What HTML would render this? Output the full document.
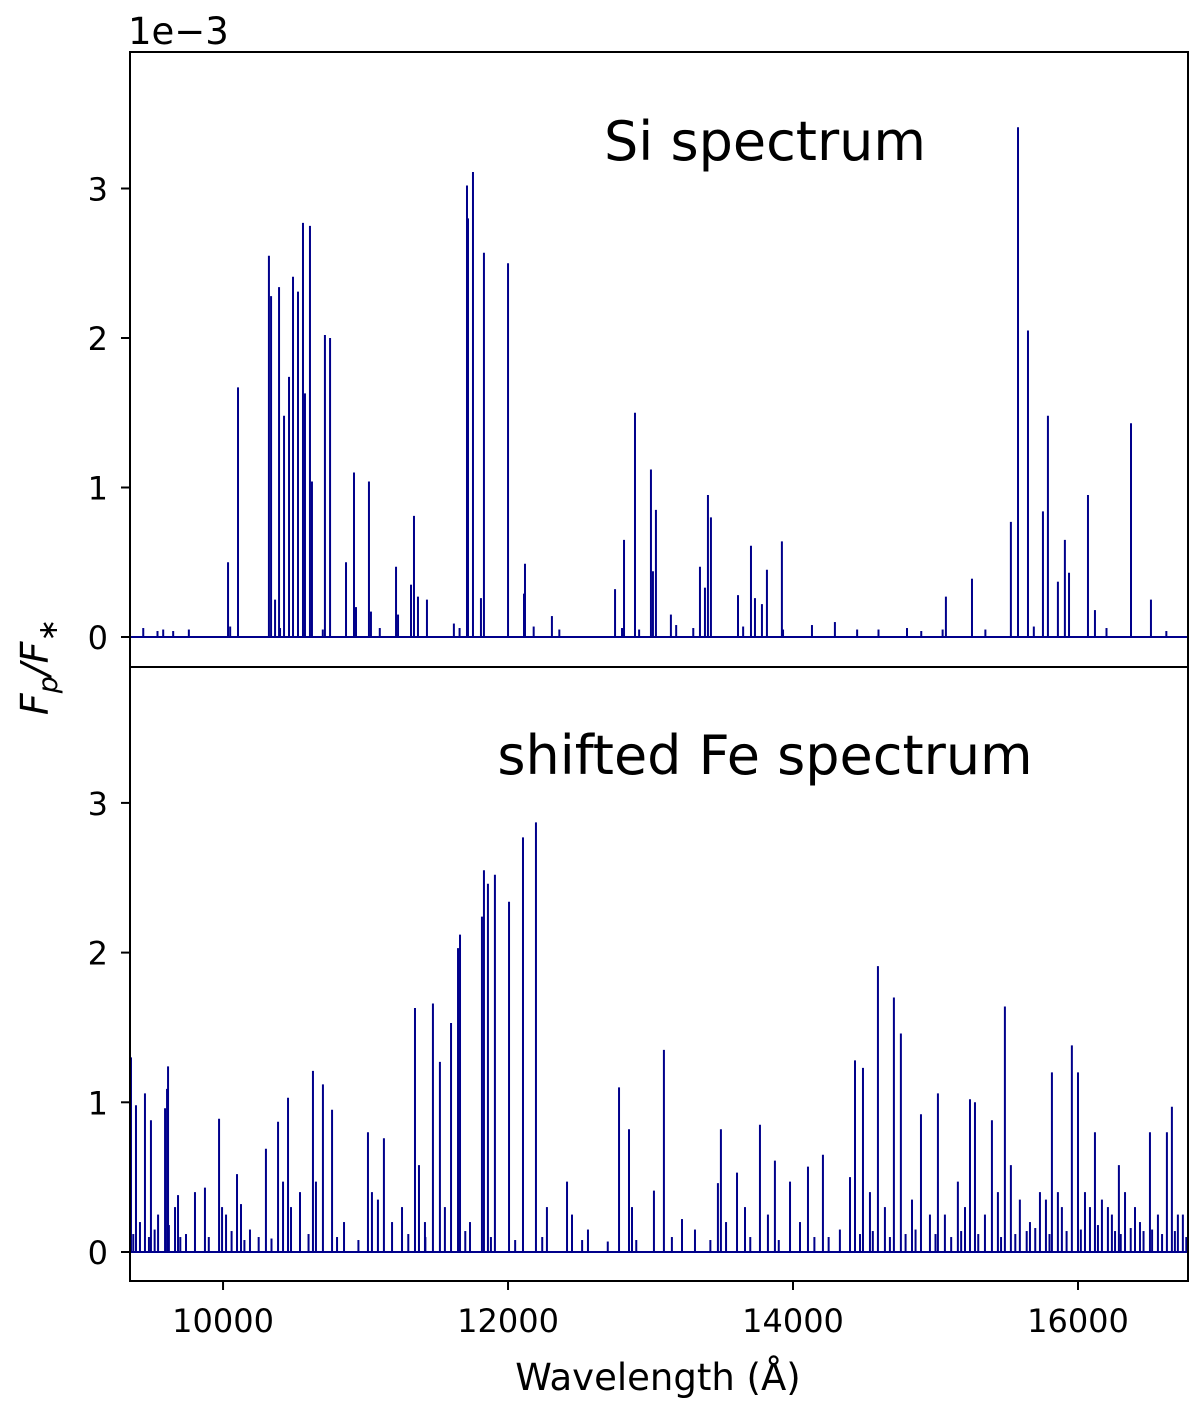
<!DOCTYPE html>
<html><head><meta charset="utf-8"><style>
html,body{margin:0;padding:0;background:#fff;}
svg text{font-family:"DejaVu Sans","Liberation Sans",sans-serif;fill:#000;}
</style></head><body>
<svg id="chart" width="1200" height="1405" viewBox="0 0 1200 1405" xmlns="http://www.w3.org/2000/svg">
<g id="top-marks"></g>
<g id="bot-marks"></g>
<g id="axes"></g>
<text x="128" y="44" font-size="37">1e−3</text>
<text x="765" y="160" font-size="54" text-anchor="middle">Si spectrum</text>
<text x="765" y="774" font-size="54" text-anchor="middle">shifted Fe spectrum</text>
<text x="658" y="1390" font-size="37" text-anchor="middle">Wavelength (Å)</text>
<text transform="translate(48,667) rotate(-90)" font-size="38" text-anchor="middle" font-style="italic">F<tspan font-size="27" dy="9">p</tspan><tspan dy="-9">/F</tspan><tspan font-size="27" dy="9">∗</tspan></text>
</svg>
<script>
const xTicks=[10000,12000,14000,16000];
const yTicks=[0,1,2,3];
const siWave=[10035,10105,10322,10337,10365,10393,10428,10463,10491,10526,10561,10575,10610,10624,10715,10751,10863,10919,10933,11024,11038,11214,11228,11319,11340,11368,11431,11712,11719,11754,11810,11831,12000,12112,12119,12308,12751,12814,12891,13003,13017,13038,13143,13347,13382,13403,13424,13614,13705,13733,13782,13817,13922,14133,14294,15073,15256,15529,15579,15649,15754,15789,15859,15908,15937,16070,16119,16372,16512,9440,9540,9580,9650,9760,10050,10400,10700,11100,11620,11660,12180,12360,12800,12920,13180,13300,13650,13930,14450,14600,14800,14900,15050,15350,15690,16200,16620];
const siFlux=[0.5,1.67,2.55,2.28,0.25,2.34,1.48,1.74,2.41,2.31,2.77,1.63,2.75,1.04,2.02,2.0,0.5,1.1,0.2,1.04,0.17,0.47,0.15,0.35,0.81,0.27,0.25,3.02,2.8,3.11,0.26,2.57,2.5,0.29,0.49,0.14,0.32,0.65,1.5,1.12,0.44,0.85,0.15,0.47,0.33,0.95,0.8,0.28,0.61,0.26,0.22,0.45,0.64,0.08,0.1,0.27,0.39,0.77,3.41,2.05,0.84,1.48,0.37,0.65,0.43,0.95,0.18,1.43,0.25,0.06,0.04,0.05,0.04,0.05,0.07,0.06,0.05,0.06,0.09,0.06,0.07,0.05,0.06,0.05,0.08,0.06,0.07,0.05,0.05,0.05,0.06,0.04,0.05,0.05,0.07,0.06,0.04];
const feWave=[9354,9389,9452,9494,9593,9607,9614,9972,10098,10301,10386,10456,10631,10701,10765,11017,11129,11347,11375,11473,11522,11600,11649,11663,11817,11831,11859,11908,12007,12105,12196,12414,12779,12849,13024,13094,13473,13494,13607,13768,13873,13979,14105,14210,14435,14491,14596,14708,14757,14898,15017,15157,15242,15277,15396,15487,15529,15817,15957,16000,16119,16287,16505,16624,16659,
9417,9544,9663,9684,9803,9873,9993,10021,10126,10189,10421,10477,10540,10652,10849,11045,11087,11186,11256,11417,11557,11733,12273,12449,12561,12870,13221,13312,13530,13663,13824,14049,14329,14400,14540,14645,14835,14961,15066,15207,15347,15438,15592,15663,15733,15775,15859,15887,16049,16084,16168,16210,16238,16330,16400,16435,16561,16701,16736,
9370,9480,9520,9620,9700,9740,9900,10060,10150,10250,10340,10600,10800,10950,11300,11420,11700,11880,12050,12240,12520,12700,12900,13150,13420,13700,13900,14150,14250,14470,14560,14680,14790,14860,15000,15110,15180,15300,15460,15560,15640,15700,15800,15920,16020,16140,16260,16300,16370,16460,16520,16590,16680,16760];
const feFlux=[1.3,0.98,1.06,0.88,0.96,1.09,1.24,0.89,0.52,0.69,0.87,1.03,1.21,1.12,0.95,0.8,0.76,1.63,0.58,1.66,1.27,1.53,2.03,2.12,2.24,2.55,2.46,2.52,2.34,2.77,2.87,0.47,1.1,0.82,0.41,1.35,0.46,0.82,0.53,0.85,0.61,0.47,0.57,0.65,1.28,1.23,1.91,1.7,1.46,0.92,1.06,0.47,1.02,1.0,0.88,1.64,0.58,1.2,1.38,1.2,0.8,0.58,0.8,0.8,0.97,
0.2,0.25,0.3,0.38,0.4,0.43,0.3,0.25,0.32,0.15,0.47,0.3,0.4,0.47,0.2,0.4,0.35,0.2,0.3,0.2,0.3,0.2,0.3,0.25,0.15,0.3,0.22,0.15,0.2,0.3,0.25,0.2,0.15,0.5,0.4,0.3,0.35,0.25,0.25,0.3,0.25,0.4,0.35,0.2,0.4,0.35,0.4,0.3,0.4,0.3,0.35,0.3,0.25,0.4,0.3,0.2,0.25,0.25,0.25,
0.12,0.1,0.15,0.18,0.1,0.12,0.1,0.14,0.08,0.1,0.09,0.12,0.1,0.08,0.12,0.1,0.14,0.1,0.08,0.1,0.08,0.07,0.08,0.1,0.08,0.1,0.08,0.1,0.1,0.12,0.14,0.1,0.12,0.15,0.12,0.1,0.14,0.12,0.1,0.12,0.14,0.16,0.12,0.14,0.15,0.18,0.14,0.12,0.16,0.14,0.15,0.12,0.14,0.1];
const NS='http://www.w3.org/2000/svg';
const X0=130,X1=1188,WMIN=9347,WMAX=16772;
function xs(w){return X0+(w-WMIN)/(WMAX-WMIN)*(X1-X0);}
function ysTop(v){return 637-v*149.5;}
function ysBot(v){return 1252-v*149.7;}
function mk(tag,attrs,parent){const e=document.createElementNS(NS,tag);for(const k in attrs)e.setAttribute(k,attrs[k]);parent.appendChild(e);return e;}
function drawSeries(g,waves,flux,ys){
  const base=mk('line',{x1:X0,x2:X1,y1:ys(0),y2:ys(0),stroke:'#00008b','stroke-width':2},g);
  
  
  waves.forEach((w,i)=>{
    const l=mk('line',{x1:xs(w),x2:xs(w),y1:ys(0),y2:ys(flux[i]),stroke:'#00008b','stroke-width':2},g);
    
    
  });
}
drawSeries(document.getElementById('top-marks'),siWave,siFlux,ysTop);
drawSeries(document.getElementById('bot-marks'),feWave,feFlux,ysBot);
const ax=document.getElementById('axes');
const f1=mk('rect',{x:X0,y:52,width:X1-X0,height:615,fill:'none',stroke:'#000','stroke-width':2},ax);


const f2=mk('rect',{x:X0,y:667,width:X1-X0,height:614,fill:'none',stroke:'#000','stroke-width':2},ax);


yTicks.forEach(v=>{
  [ysTop,ysBot].forEach((ys,k)=>{
    const y=ys(v);
    const t=mk('line',{x1:X0-9,x2:X0,y1:y,y2:y,stroke:'#000','stroke-width':2},ax);
    
    
    const tx=mk('text',{x:X0-22,y:y+12,'font-size':32,'text-anchor':'end'},ax);
    tx.textContent=v;
    
    
  });
});
xTicks.forEach(v=>{
  const x=xs(v);
  const t=mk('line',{x1:x,x2:x,y1:1281,y2:1290,stroke:'#000','stroke-width':2},ax);
  
  
  const tx=mk('text',{x:x,y:1332,'font-size':32,'text-anchor':'middle'},ax);
  tx.textContent=v;
  
  
});
</script>
</body></html>
